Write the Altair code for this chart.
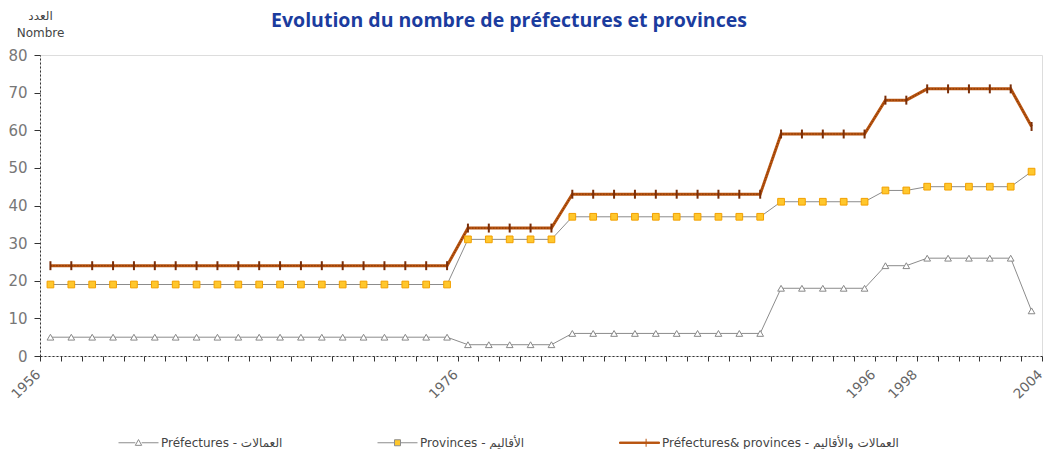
import altair as alt
import pandas as pd

# ---- data ----
years = list(range(1956, 2004))
prefectures = [5, 5, 5, 5, 5, 5, 5, 5, 5, 5, 5, 5, 5, 5, 5, 5, 5, 5, 5, 5,
               3, 3, 3, 3, 3,
               6, 6, 6, 6, 6, 6, 6, 6, 6, 6,
               18, 18, 18, 18, 18,
               24, 24,
               26, 26, 26, 26, 26,
               12]
provinces = [19, 19, 19, 19, 19, 19, 19, 19, 19, 19, 19, 19, 19, 19, 19, 19, 19, 19, 19, 19,
             31, 31, 31, 31, 31,
             37, 37, 37, 37, 37, 37, 37, 37, 37, 37,
             41, 41, 41, 41, 41,
             44, 44,
             45, 45, 45, 45, 45,
             49]
total = [24, 24, 24, 24, 24, 24, 24, 24, 24, 24, 24, 24, 24, 24, 24, 24, 24, 24, 24, 24,
         34, 34, 34, 34, 34,
         43, 43, 43, 43, 43, 43, 43, 43, 43, 43,
         59, 59, 59, 59, 59,
         68, 68,
         71, 71, 71, 71, 71,
         61]
series_names = ["Préfectures - العمالات",
                "Provinces - الأقاليم",
                "Préfectures& provinces - العمالات والأقاليم"]
tick_years = list(range(1956, 2005))
label_years = [1956, 1976, 1996, 1998, 2004]
y_ticks = [0, 10, 20, 30, 40, 50, 60, 70, 80]
title_text = "Evolution du nombre de préfectures et provinces"
y_title = ["العدد", "Nombre"]

rows = []
for name, vals in zip(series_names, [prefectures, provinces, total]):
    for yr, v in zip(years, vals):
        rows.append({"year": yr, "series": name, "value": v})
df = pd.DataFrame(rows)

# ---- styling ----
GREY = "#8c8c8c"
BROWN = "#B85410"
ORANGE = "#FFC72C"
stroke_scale = alt.Scale(domain=series_names, range=[GREY, GREY, BROWN])
fill_scale = alt.Scale(domain=series_names, range=["white", ORANGE, BROWN])
legend_paths = [
    "M-1,0H-0.16M0.16,0H1M-0.16,0.13L0,-0.16L0.16,0.13Z",
    "M-1,0H-0.15M0.15,0H1M-0.15,-0.15H0.15V0.15H-0.15Z",
    "M-1,-0.035H1V0.035H-1ZM0.33,-0.2V0.2",
]
shape_scale = alt.Scale(domain=series_names, range=legend_paths)

label_test = "indexof([" + ",".join(str(v) for v in label_years) + "], datum.value) >= 0"

x_enc = alt.X(
    "mid:Q",
    scale=alt.Scale(domain=[tick_years[0], tick_years[-1]], nice=False, zero=False),
    axis=alt.Axis(
        values=tick_years, format="d",
        labelExpr=label_test + " ? datum.label : ''",
        labelAngle=315, labelAlign="right", labelBaseline="middle",
        labelOverlap=False, labelFlush=False,
        labelFont="DejaVu Sans", labelFontSize=13.5, labelColor="#666",
        labelPadding=11, labelOffset=-2,
        tickSize=5, tickColor="#333", domainColor="#333", domainDash=[2, 2],
        grid=False, title=None,
    ),
)
y_enc = alt.Y(
    "value:Q",
    scale=alt.Scale(domain=[0, 80], nice=False),
    axis=alt.Axis(
        values=y_ticks, grid=False,
        title=y_title, titleAngle=0, titleAlign="center", titleBaseline="bottom",
        titleX=0, titleY=-33, titleLineHeight=17,
        titleFont="DejaVu Sans", titleFontSize=12, titleFontWeight="normal", titleColor="#444",
        labelFont="DejaVu Sans", labelFontSize=15, labelColor="#777", labelPadding=7,
        tickSize=6, tickColor="#333", domainColor="#333", domainDash=[2, 2],
    ),
)

base = alt.Chart(df).transform_calculate(mid="datum.year + 0.5")


def only(i):
    return base.transform_filter(alt.datum.series == series_names[i])


line_pref = only(0).mark_line(stroke=GREY, strokeWidth=1).encode(x=x_enc, y=y_enc)
line_prov = only(1).mark_line(stroke=GREY, strokeWidth=1).encode(x=x_enc, y=y_enc)
line_tot = only(2).mark_line(stroke=BROWN, strokeWidth=3).encode(x=x_enc, y=y_enc)
dotted = only(2).mark_line(stroke="#6e2a00", strokeWidth=1, strokeDash=[1, 2]).encode(x=x_enc, y=y_enc)

tri = only(0).mark_point(
    shape="triangle-up", size=45, filled=True, fill="white", stroke="#888", strokeWidth=1, opacity=1
).encode(x=x_enc, y=y_enc)
sq = only(1).mark_point(
    shape="square", size=45, filled=True, fill=ORANGE, stroke="#F2A000", strokeWidth=1, opacity=1
).encode(x=x_enc, y=y_enc)
crs = only(2).mark_point(
    shape="M0,-1V1", size=80, filled=False, stroke="#7a2e08", strokeWidth=2, opacity=1
).encode(x=x_enc, y=y_enc)

leg = alt.Legend(
    title=None, orient="none", legendX=78, legendY=367, direction="horizontal",
    symbolSize=1600, symbolOpacity=1, symbolStrokeWidth=1,
    labelFont="DejaVu Sans", labelFontSize=12,
    labelColor="#444", labelLimit=400, labelOffset=2, columnPadding=92,
)
legend_layer = base.mark_point(opacity=0).encode(
    x=x_enc, y=y_enc,
    shape=alt.Shape("series:N", scale=shape_scale, legend=leg),
    fill=alt.Fill("series:N", scale=fill_scale, legend=leg),
    stroke=alt.Stroke("series:N", scale=stroke_scale, legend=leg),
)

chart = alt.layer(line_pref, line_prov, line_tot, dotted, tri, sq, crs, legend_layer).properties(
    width=1002, height=301,
    title=alt.TitleParams(
        text=title_text, font="Open Sans", fontSize=19.5, fontWeight="bold",
        color="#1B3C9E", anchor="middle", dx=-32, dy=26,
    ),
    padding={"left": 32, "top": 47, "right": 5, "bottom": 93},
    autosize=alt.AutoSizeParams(type="none"),
).configure_view(stroke=None).configure(background="white")

chart.save("out.html", embed_options={"renderer": "svg", "actions": False})
